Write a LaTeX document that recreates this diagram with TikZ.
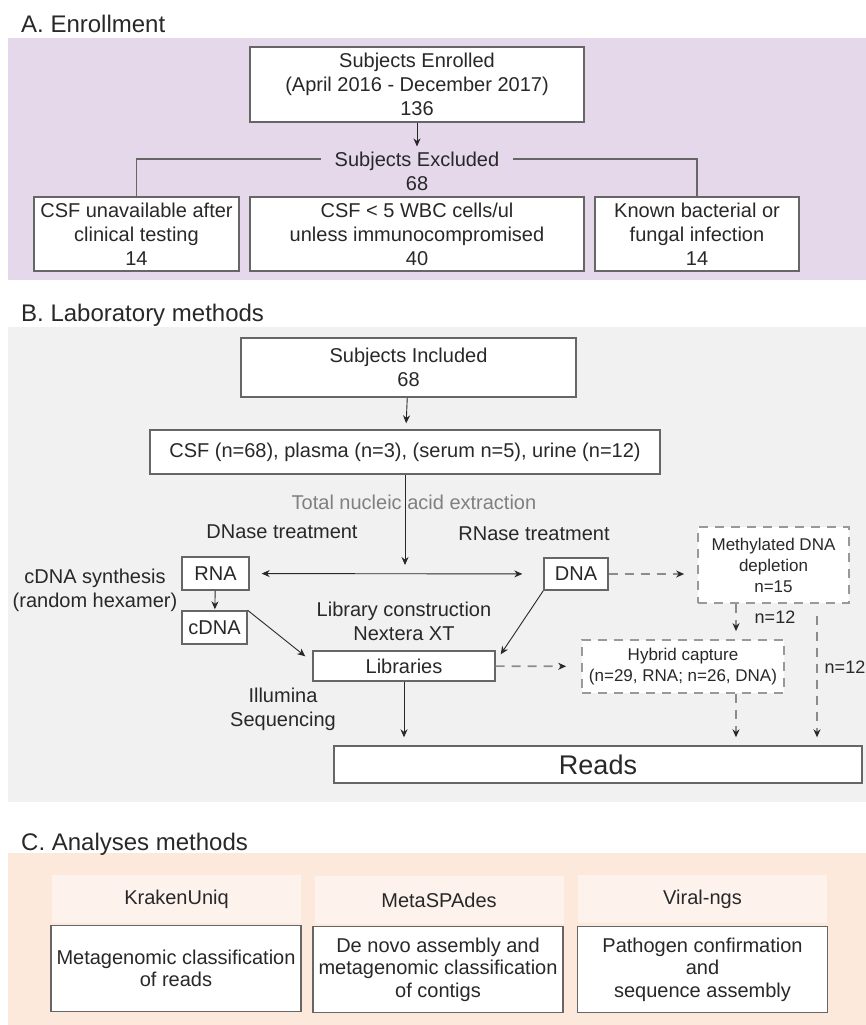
\documentclass[tikz,border=0pt]{standalone}
\usepackage{fontspec}
\setmainfont{Liberation Sans}
\usetikzlibrary{positioning, arrows.meta}
\definecolor{ink}{RGB}{40,40,40}
\definecolor{lilac}{RGB}{228,216,234}
\definecolor{greybg}{RGB}{241,241,241}
\definecolor{peach}{RGB}{252,233,219}
\definecolor{peachlt}{RGB}{253,243,236}

\begin{document}
\begin{tikzpicture}[
  x=1pt, y=-1pt,
  font=\fontsize{20pt}{24pt}\selectfont, text=ink,
  box/.style={rectangle, draw=black!60, line width=1.4pt, fill=white,
              align=center, inner sep=2pt},
  dbox/.style={rectangle, draw=black!40, line width=1.7pt,
               dash pattern=on 9pt off 7pt, fill=white, align=center,
               inner sep=2pt, font=\fontsize{17pt}{21pt}\selectfont},
  cbox/.style={box, minimum width=250pt, minimum height=86pt,
               font=\fontsize{20pt}{22.5pt}\selectfont},
  head/.style={rectangle, fill=peachlt, minimum width=249pt, minimum height=48pt},
  lbl/.style={align=center},
  nlbl/.style={font=\fontsize{18pt}{21pt}\selectfont},
  title/.style={anchor=west, inner sep=0pt, font=\fontsize{24pt}{28pt}\selectfont},
  arr/.style={-{Stealth[length=8pt,width=7pt]}, line width=0.9pt, draw=ink},
  biarr/.style={arr, {Stealth[length=8pt,width=7pt]}-{Stealth[length=8pt,width=7pt]}},
  darr/.style={-{Stealth[length=8pt,width=7pt,color=ink]}, draw=black!45,
               line width=1.6pt, dash pattern=on 9pt off 7pt},
  link/.style={line width=1.3pt, draw=black!60},
]
\useasboundingbox (0,0) rectangle (866,1025);
% Backgrounds of the three panels
\fill[lilac]  (8,38)  rectangle (866,280);
\fill[greybg] (8,327) rectangle (866,802);
\fill[peach]  (8,853) rectangle (866,1025);

% A. Enrollment
\node[title] (titA) at (21,24) {A. Enrollment};
\node[box, minimum width=334pt, minimum height=75pt] (enrolled) at (417,84.5)
  {Subjects Enrolled\\(April 2016 - December 2017)\\136};
\node[lbl, inner xsep=14pt, inner ysep=3pt] (excluded) at (417,171)
  {Subjects Excluded\\68};
\node[box, minimum width=205pt, minimum height=74pt] (nocsf)  at (136.5,234)
  {CSF unavailable after\\clinical testing\\14};
\node[box, minimum width=334pt, minimum height=74pt] (lowwbc) at (417,234)
  {CSF < 5 WBC cells/ul\\unless immunocompromised\\40};
\node[box, minimum width=204pt, minimum height=74pt] (infect) at (697,234)
  {Known bacterial or\\fungal infection\\14};
\draw[arr, shorten >=2pt] (enrolled) -- (excluded);
\draw[link] ([yshift=12pt]excluded.west) -| (nocsf.north);
\draw[link] ([yshift=12pt]excluded.east) -| (infect.north);

% B. Laboratory methods
\node[title] (titB) at (21,315) {B. Laboratory methods};
\node[box, minimum width=335pt, minimum height=59pt] (included) at (408.5,367.5)
  {Subjects Included\\68};
\node[box, minimum width=510pt, minimum height=44pt] (samples) at (405,452)
  {CSF (n=68), plasma (n=3), (serum n=5), urine (n=12)};
\coordinate (split) at (405,565);
\node[lbl, text=black!50] (extract) at (414,502) {Total nucleic acid extraction};
\node[lbl] (dnase) at (282,532) {DNase treatment};
\node[lbl] (rnase) at (534,534) {RNase treatment};
\node[box, minimum width=67pt, minimum height=33pt] (rna) at (215.5,573.5) {RNA};
\node[box, minimum width=64pt, minimum height=32pt] (dna) at (576,574) {DNA};
\node[lbl] (cdnasyn) at (95,590) {cDNA synthesis\\(random hexamer)};
\node[box, minimum width=65pt, minimum height=33pt] (cdna) at (214.5,627.5) {cDNA};
\node[lbl] (libcon) at (404,621) {Library construction\\Nextera XT};
\node[box, minimum width=182pt, minimum height=30pt] (libs) at (404,666) {Libraries};
\node[dbox, minimum width=151pt, minimum height=76pt] (methyl) at (773.5,565)
  {Methylated DNA\\depletion\\n=15};
\node[dbox, minimum width=202pt, minimum height=53pt] (hybrid) at (683,666.5)
  {Hybrid capture\\(n=29, RNA; n=26, DNA)};
\node[lbl] (illumina) at (283,709) {Illumina\\Sequencing};
\node[box, minimum width=528pt, minimum height=37pt,
      font=\fontsize{27pt}{30pt}\selectfont] (reads) at (598,764.5) {Reads};
\node[nlbl] (nmeth) at (775,617) {n=12};
\node[nlbl] (nskip) at (845,667) {n=12};
% solid flow
\draw[arr, shorten >=6pt] (included) -- (samples);
\draw[arr] (samples) -- (split);
\draw[biarr, shorten <=12pt, shorten >=21pt] (rna) -- (dna);
\draw[arr, shorten >=1pt] (rna) -- (cdna);
\draw[arr] (cdna.north east) -- ([xshift=-7pt,yshift=-6pt]libs.north west);
\draw[arr] (dna.south west) -- ([xshift=5pt,yshift=-4pt]libs.north east);
\draw[arr, shorten >=8pt] (libs) -- (libs |- reads.north);
% dashed flow
\draw[darr, shorten >=13pt] (dna) -- (dna -| methyl.west);
\draw[darr, shorten >=15pt] (libs) -- (hybrid);
\draw[darr, shorten >=8pt] ([xshift=-37.5pt]methyl.south) -- ([xshift=53pt]hybrid.north);
\draw[darr, shorten >=8pt] ([xshift=53pt]hybrid.south) -- ([xshift=53pt]hybrid.south |- reads.north);
\draw[darr, shorten >=8pt] ([xshift=43.5pt,yshift=-12pt]methyl.south)
  -- ([xshift=43.5pt]methyl.south |- reads.north);

% C. Analyses methods
\node[title] (titC) at (21,844) {C. Analyses methods};
\node[head] (hkraken) at (176.5,899) {KrakenUniq};
\node[head] (hspades) at (439,900)   {MetaSPAdes};
\node[head] (hviral)  at (702.5,899) {Viral-ngs};
\node[cbox] (kraken) at (176,968.5)   {Metagenomic classification\\of reads};
\node[cbox] (spades) at (438,969.5)   {De novo assembly and\\metagenomic classification\\of contigs};
\node[cbox] (viral)  at (702.5,969.5) {Pathogen confirmation\\and\\sequence assembly};
\end{tikzpicture}
\end{document}
